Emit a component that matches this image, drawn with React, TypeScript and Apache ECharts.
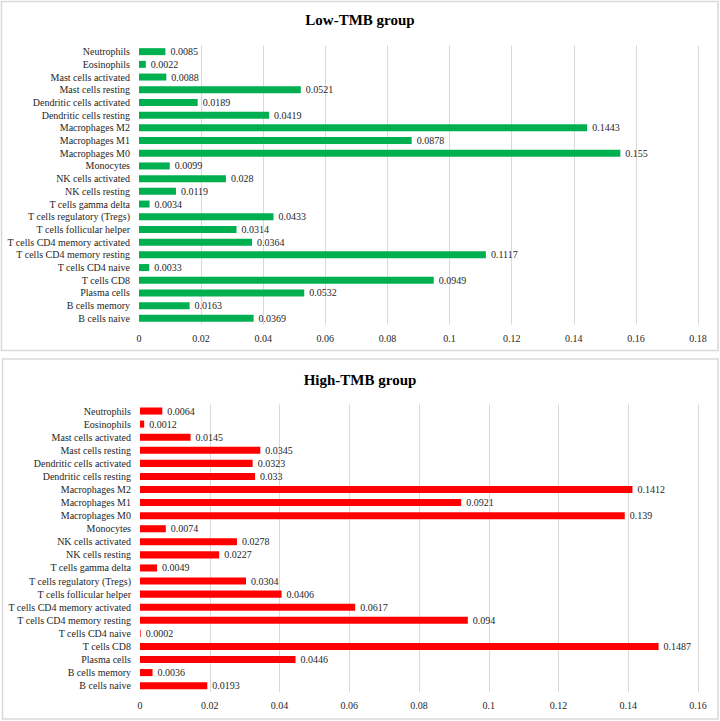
import React, { useEffect, useRef } from "react";
import * as echarts from "echarts";

const categories = [
  "Neutrophils",
  "Eosinophils",
  "Mast cells activated",
  "Mast cells resting",
  "Dendritic cells activated",
  "Dendritic cells resting",
  "Macrophages M2",
  "Macrophages M1",
  "Macrophages M0",
  "Monocytes",
  "NK cells activated",
  "NK cells resting",
  "T cells gamma delta",
  "T cells regulatory (Tregs)",
  "T cells follicular helper",
  "T cells CD4 memory activated",
  "T cells CD4 memory resting",
  "T cells CD4 naive",
  "T cells CD8",
  "Plasma cells",
  "B cells memory",
  "B cells naive",
];

const lowTMB = [
  0.0085, 0.0022, 0.0088, 0.0521, 0.0189, 0.0419, 0.1443, 0.0878, 0.155, 0.0099, 0.028,
  0.0119, 0.0034, 0.0433, 0.0314, 0.0364, 0.1117, 0.0033, 0.0949, 0.0532, 0.0163, 0.0369,
];

const highTMB = [
  0.0064, 0.0012, 0.0145, 0.0345, 0.0323, 0.033, 0.1412, 0.0921, 0.139, 0.0074, 0.0278,
  0.0227, 0.0049, 0.0304, 0.0406, 0.0617, 0.094, 0.0002, 0.1487, 0.0446, 0.0036, 0.0193,
];

const titles = ["Low-TMB group", "High-TMB group"];
const axisMax = [0.18, 0.16];

const FONT = "Liberation Serif";
const TEXT = "#262626";
const GRID = "#d9d9d9";
const FS = 10;

export default function App() {
  const ref = useRef<HTMLDivElement>(null);

  useEffect(() => {
    if (!ref.current) return;
    const chart = echarts.init(ref.current, null, { renderer: "svg" });
    const fmt = (v: number) => String(parseFloat(Number(v).toFixed(4)));

    const grids = [
      { left: 139, right: 22, top: 45.3, height: 279.4, outerBoundsMode: "none", containLabel: false },
      { left: 140, right: 22, top: 404.5, height: 287.7, outerBoundsMode: "none", containLabel: false },
    ];

    const labelCfg = {
      show: true,
      position: "right",
      distance: 5,
      color: TEXT,
      fontFamily: FONT,
      fontSize: FS,
      formatter: (p: any) => fmt(p.value),
    };

    chart.setOption({
      animation: false,
      backgroundColor: "#ffffff",
      textStyle: { fontFamily: FONT },
      graphic: [
        {
          type: "rect",
          shape: { x: 1.5, y: 1.5, width: 716.5, height: 349 },
          style: { fill: "none", stroke: GRID, lineWidth: 1.5 },
          silent: true,
        },
        {
          type: "rect",
          shape: { x: 2.5, y: 359, width: 715.5, height: 360 },
          style: { fill: "none", stroke: GRID, lineWidth: 1.5 },
          silent: true,
        },
      ],
      title: [
        {
          text: titles[0],
          left: "center",
          top: 12,
          padding: 0,
          textStyle: { fontFamily: FONT, fontSize: 15, fontWeight: "bold", color: "#000" },
        },
        {
          text: titles[1],
          left: "center",
          top: 372,
          padding: 0,
          textStyle: { fontFamily: FONT, fontSize: 15, fontWeight: "bold", color: "#000" },
        },
      ],
      grid: grids,
      xAxis: [0, 1].map((i) => ({
        type: "value",
        gridIndex: i,
        min: 0,
        max: axisMax[i],
        interval: 0.02,
        axisLine: { show: false },
        axisTick: { show: false },
        axisLabel: {
          color: TEXT,
          fontFamily: FONT,
          fontSize: FS,
          margin: i === 0 ? 9 : 8,
          formatter: fmt,
        },
        splitLine: { show: true, showMinLine: false, lineStyle: { color: GRID, width: 1 } },
      })),
      yAxis: [0, 1].map((i) => ({
        type: "category",
        gridIndex: i,
        data: categories,
        inverse: true,
        axisLine: { show: false },
        axisTick: { show: false },
        splitLine: { show: false },
        axisLabel: {
          color: TEXT,
          fontFamily: FONT,
          fontSize: FS,
          margin: 9,
          interval: 0,
        },
      })),
      series: [
        {
          type: "bar",
          xAxisIndex: 0,
          yAxisIndex: 0,
          data: lowTMB,
          barWidth: "55%",
          itemStyle: { color: "#00B050" },
          label: labelCfg,
        },
        {
          type: "bar",
          xAxisIndex: 1,
          yAxisIndex: 1,
          data: highTMB,
          barWidth: "54%",
          itemStyle: { color: "#FF0000" },
          label: labelCfg,
        },
      ],
    });

    return () => chart.dispose();
  }, []);

  return (
    <div
      ref={ref}
      style={{ position: "fixed", left: 0, top: 0, width: 720, height: 721, background: "#fff" }}
    />
  );
}
